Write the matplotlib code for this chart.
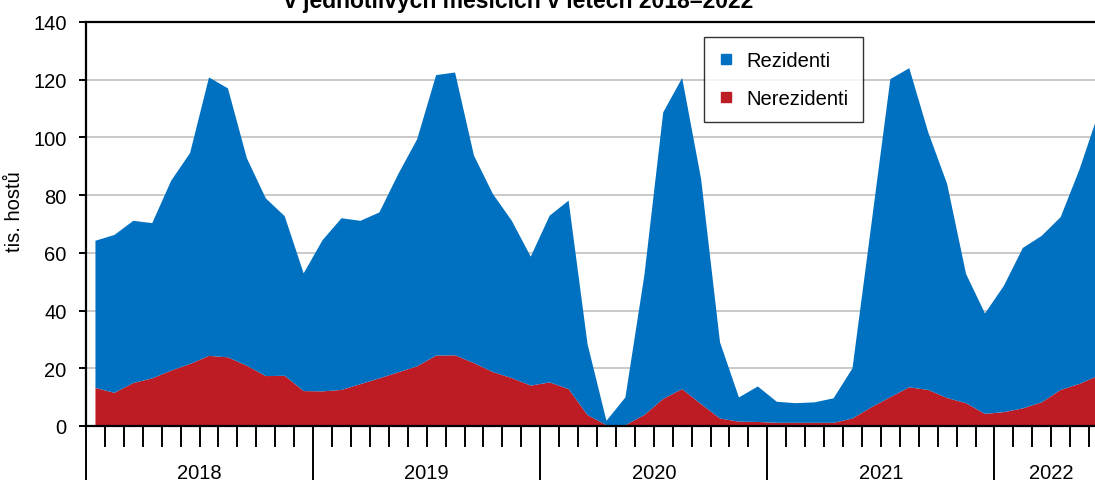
import matplotlib
matplotlib.use("Agg")
import numpy as np
import matplotlib.pyplot as plt
from matplotlib.lines import Line2D

plt.rcParams['font.family'] = ['Liberation Sans', 'DejaVu Sans']

# hoste v hromadnych ubytovacich zarizenich, mesicne od ledna 2018 (tis.)
years = ['2018', '2019', '2020', '2021', '2022']
months_in_year = [12, 12, 12, 12, 6]

nerezidenti = [13.2, 11.5, 14.9, 16.5, 19.2, 21.5, 24.3, 23.8, 20.9, 17.3, 17.4, 12.1,
               12.0, 12.5, 14.5, 16.5, 18.6, 20.7, 24.4, 24.5, 21.8, 18.7, 16.6, 14.0,
               15.1, 12.8, 3.8, 0.3, 0.3, 3.8, 9.4, 12.8, 7.6, 2.6, 1.5, 1.4,
               1.1, 1.1, 1.1, 1.1, 2.6, 6.5, 10.0, 13.4, 12.5, 9.7, 7.9, 4.2,
               4.8, 6.1, 8.2, 12.5, 14.6, 17.5]
rezidenti = [51.0, 54.7, 56.2, 53.8, 65.8, 73.1, 96.5, 93.2, 71.9, 61.6, 55.3, 40.8,
             52.4, 59.5, 56.6, 57.5, 68.7, 78.7, 97.2, 98.0, 71.9, 61.7, 54.5, 44.7,
             57.8, 65.3, 24.6, 1.5, 9.6, 48.3, 99.3, 107.8, 78.0, 26.4, 8.4, 12.3,
             7.3, 6.8, 7.1, 8.5, 17.4, 63.5, 110.2, 110.6, 89.3, 74.2, 44.8, 34.8,
             43.8, 55.6, 57.7, 59.9, 74.4, 91.0]

blue = '#0070C0'
red = '#BE1C24'

n = len(rezidenti)
x = np.arange(n) + 0.5

fig = plt.figure(figsize=(10.95, 4.81), dpi=100)
ax = fig.add_axes([86 / 1095, 54 / 481, 1022 / 1095, 404 / 481])

ax.stackplot(x, nerezidenti, rezidenti, colors=[red, blue], linewidth=0)

ax.set_xlim(0, sum(months_in_year))
ax.set_ylim(0, 140)
ax.set_yticks(range(0, 141, 20))
ax.tick_params(axis='y', labelsize=14.5, length=5, width=1.4, pad=9, direction='out')
for v in range(20, 140, 20):
    ax.axhline(v, color='#C0C0C0', lw=1.2, zorder=0)

# tick marks on x axis: months short, years long
edges = np.cumsum([0] + months_in_year)
ax.set_xticks(edges[:-1])
ax.set_xticklabels([])
ax.set_xticks(np.arange(1, sum(months_in_year)), minor=True)
ax.tick_params(axis='x', which='major', length=45, width=1.4, direction='out')
ax.tick_params(axis='x', which='minor', length=15, width=1.4, direction='out')

for i, yr in enumerate(years):
    mid = (edges[i] + edges[i + 1]) / 2
    ax.annotate(yr, xy=(mid, 0), xycoords=('data', 'axes fraction'),
                xytext=(0, -37.5), textcoords='offset points',
                ha='center', va='baseline', fontsize=14.5)

for s in ['left', 'bottom', 'top']:
    ax.spines[s].set_linewidth(1.6)
    ax.spines[s].set_color('black')
ax.spines['right'].set_visible(False)

fig.text(15 / 1095, 1 - 212 / 481, 'tis. hostů', rotation=90,
         ha='center', va='center', fontsize=14.5)

fig.text(519 / 1095, 1 - 8 / 481, 'v jednotlivých měsících v letech 2018–2022',
         ha='center', va='baseline', fontsize=16.5, fontweight='bold')

handles = [Line2D([], [], marker='s', linestyle='none', markersize=7,
                  markerfacecolor=blue, markeredgecolor=blue),
           Line2D([], [], marker='s', linestyle='none', markersize=7,
                  markerfacecolor=red, markeredgecolor=red)]
leg = ax.legend(handles, ['Rezidenti', 'Nerezidenti'], loc='upper left',
                bbox_to_anchor=(704 / 1095, 1 - 38 / 481),
                bbox_transform=fig.transFigure, fontsize=14.5,
                frameon=True, fancybox=False, borderaxespad=0,
                handlelength=0.8, handletextpad=0.6, borderpad=0.7,
                labelspacing=0.95)
leg.get_frame().set_edgecolor('black')
leg.get_frame().set_linewidth(1.0)

fig.savefig('out.png', dpi=100)
